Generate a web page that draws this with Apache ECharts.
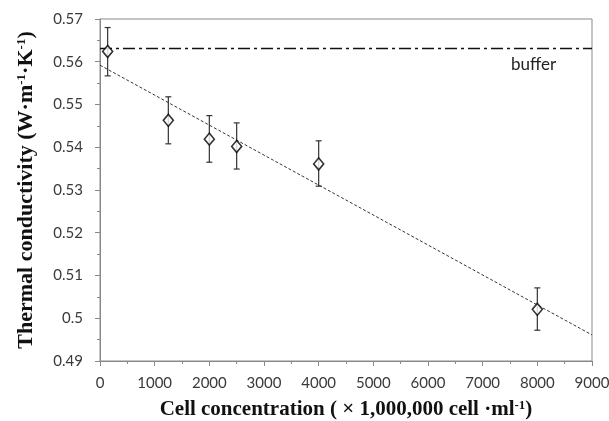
<!DOCTYPE html>
<html>
<head>
<meta charset="utf-8">
<script src="https://cdn.jsdelivr.net/npm/echarts@6/dist/echarts.min.js"></script>
<style>
  html, body { margin: 0; padding: 0; background: #fff; }
  #chart { width: 609px; height: 421px; }
</style>
</head>
<body>
<div id="chart"></div>
<script>
  // measured points
  const concentration = [140, 1250, 2000, 2500, 4000, 8000]
  const conductivity = [0.5624, 0.5463, 0.5419, 0.5402, 0.5361, 0.5021]
  const errLow = [0.5567, 0.5408, 0.5365, 0.5349, 0.5309, 0.4972]
  const errHigh = [0.5680, 0.5518, 0.5474, 0.5457, 0.5415, 0.5071]

  // reference lines
  const bufferX = [0, 9000]
  const bufferY = [0.5631, 0.5631]
  const trendX = [0, 9000]
  const trendY = [0.5592, 0.4961]

  const pts = concentration.map((x, i) => [x, conductivity[i]])
  const bars = concentration.map((x, i) => [x, errLow[i], errHigh[i]])

  const chart = echarts.init(document.getElementById('chart'))
  const axisGray = '#898989'
  const labelFont = { fontFamily: 'Lato', fontSize: 15, color: '#3a3a3a' }
  const titleFont = (size) => ({
    fontFamily: 'Liberation Serif', fontWeight: 'bold', fontSize: size, color: '#111',
    rich: { s: { fontFamily: 'Liberation Serif', fontWeight: 'bold', fontSize: 13, verticalAlign: 'top', color: '#111' } }
  })

  chart.setOption({
    animation: false,
    grid: {
      left: 100, top: 19, right: 17, bottom: 60,
      outerBoundsMode: 'none',
      show: true, borderColor: axisGray, borderWidth: 1
    },
    xAxis: {
      type: 'value',
      min: 0, max: 9000, interval: 1000,
      axisLine: { show: true, lineStyle: { color: axisGray } },
      axisTick: { show: true, length: 5, lineStyle: { color: axisGray } },
      minorTick: { show: true, splitNumber: 2, length: 3, lineStyle: { color: axisGray } },
      splitLine: { show: false },
      axisLabel: Object.assign({ margin: 15, formatter: v => String(v) }, labelFont),
      name: 'Cell concentration ( × 1,000,000 cell ·ml{s|-1})',
      nameLocation: 'middle',
      nameGap: 38,
      nameTextStyle: titleFont(21)
    },
    yAxis: {
      type: 'value',
      min: 0.49, max: 0.57, interval: 0.01,
      axisLine: { show: true, lineStyle: { color: axisGray } },
      axisTick: { show: true, length: 5, lineStyle: { color: axisGray } },
      minorTick: { show: true, splitNumber: 2, length: 3, lineStyle: { color: axisGray } },
      splitLine: { show: false },
      axisLabel: Object.assign({ margin: 17 }, labelFont),
      name: 'Thermal conductivity (W·m{s|-1}·K{s|-1})',
      nameLocation: 'middle',
      nameGap: 63,
      nameTextStyle: titleFont(22)
    },
    series: [
      {
        name: 'buffer',
        type: 'line',
        data: bufferX.map((x, i) => [x, bufferY[i]]),
        symbol: 'none',
        lineStyle: { color: '#111', width: 1.6, type: [12, 4, 3, 4] },
        z: 2
      },
      {
        name: 'trend',
        type: 'line',
        data: trendX.map((x, i) => [x, trendY[i]]),
        symbol: 'none',
        lineStyle: { color: '#333', width: 1, type: [3, 2] },
        z: 2
      },
      {
        name: 'error',
        type: 'custom',
        data: bars,
        renderItem: function (params, api) {
          const x = api.value(0)
          const lo = api.coord([x, api.value(1)])
          const hi = api.coord([x, api.value(2)])
          const w = 3
          const st = { stroke: '#333', lineWidth: 1.2 }
          return {
            type: 'group',
            children: [
              { type: 'line', shape: { x1: lo[0], y1: lo[1], x2: hi[0], y2: hi[1] }, style: st },
              { type: 'line', shape: { x1: lo[0] - w, y1: lo[1], x2: lo[0] + w, y2: lo[1] }, style: st },
              { type: 'line', shape: { x1: hi[0] - w, y1: hi[1], x2: hi[0] + w, y2: hi[1] }, style: st }
            ]
          }
        },
        z: 3
      },
      {
        name: 'data',
        type: 'scatter',
        data: pts,
        symbol: 'diamond',
        symbolSize: [10, 12],
        itemStyle: { color: '#fff', borderColor: '#000', borderWidth: 1.6 },
        z: 4
      }
    ],
    graphic: [
      {
        type: 'text',
        left: 511, top: 56,
        style: { text: 'buffer', fontFamily: 'Lato', fontSize: 17, fill: '#222' }
      }
    ]
  })
</script>
</body>
</html>
